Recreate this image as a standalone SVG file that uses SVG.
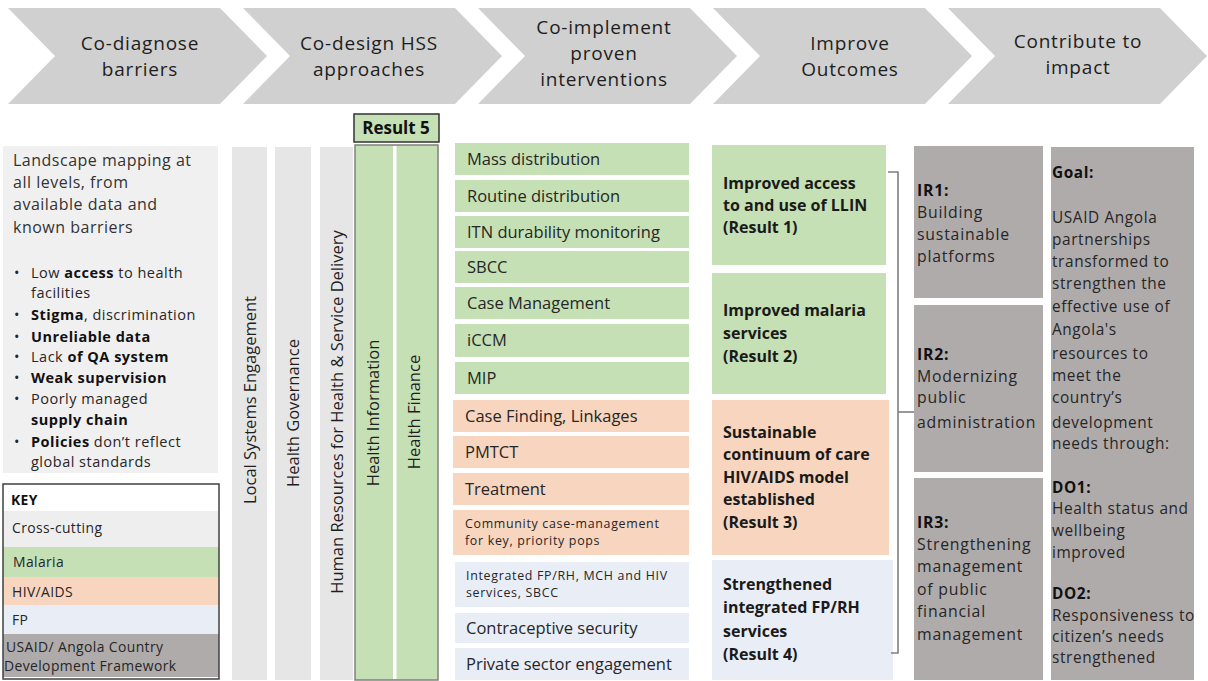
<svg xmlns="http://www.w3.org/2000/svg" width="1208" height="681" viewBox="0 0 1208 681">
  <defs>
    <style>
      text { font-family: "Open Sans", "Liberation Sans", sans-serif; fill: #262626; }
      .chev { fill: #d0d0d0; }
      .chev-t { font-size: 19px; letter-spacing: 0.8px; text-anchor: middle; fill: #1e1e1e; }
      .cross { fill: #e7e6e6; }
      .mal { fill: #c5e0b4; }
      .hiv { fill: #f8d5bf; }
      .fp { fill: #e9edf5; }
      .cdf { fill: #afabab; }
      .b { font-weight: bold; fill: #111; }
      .lead { font-size: 16px; letter-spacing: 0.5px; fill: #333; }
      .bul { font-size: 14.5px; letter-spacing: 0.5px; fill: #3a3a3a; }
      .vert { font-size: 16.5px; text-anchor: middle; fill: #1e1e1e; }
      .item { font-size: 16.5px; }
      .small { font-size: 12.4px; letter-spacing: 0.7px; }
      .out { font-size: 16px; font-weight: bold; fill: #1a1a1a; }
      .ir { font-size: 15.8px; letter-spacing: 0.8px; fill: #262626; }
      .goal { font-size: 15.4px; letter-spacing: 0.6px; fill: #262626; }
      .key { font-size: 13.9px; letter-spacing: 0.4px; }
      .conn { fill: none; stroke: #7f7f7f; stroke-width: 1.6; }
    </style>
  </defs>

  <rect width="1208" height="681" fill="#ffffff"/>

  <!-- process stages -->
  <g id="stage-diagnose">
    <path class="chev" d="M8,8 H220 L267,56 L220,104 H8 L55,56 Z"/>
    <text class="chev-t"><tspan x="140" y="50">Co-diagnose</tspan><tspan x="140" y="76">barriers</tspan></text>
  </g>
  <g id="stage-design">
    <path class="chev" d="M243,8 H455 L502,56 L455,104 H243 L290,56 Z"/>
    <text class="chev-t"><tspan x="369" y="50">Co-design HSS</tspan><tspan x="369" y="76">approaches</tspan></text>
  </g>
  <g id="stage-implement">
    <path class="chev" d="M478,8 H690 L737,56 L690,104 H478 L525,56 Z"/>
    <text class="chev-t"><tspan x="604" y="34">Co-implement</tspan><tspan x="604" y="60">proven</tspan><tspan x="604" y="86">interventions</tspan></text>
  </g>
  <g id="stage-outcomes">
    <path class="chev" d="M713,8 H925 L972,56 L925,104 H713 L760,56 Z"/>
    <text class="chev-t"><tspan x="850" y="50">Improve</tspan><tspan x="850" y="76">Outcomes</tspan></text>
  </g>
  <g id="stage-impact">
    <path class="chev" d="M948,8 H1160 L1207,56 L1160,104 H948 L995,56 Z"/>
    <text class="chev-t"><tspan x="1078" y="48">Contribute to</tspan><tspan x="1078" y="74">impact</tspan></text>
  </g>

  <!-- barriers -->
  <g id="barriers">
    <rect x="3" y="146" width="215" height="327" fill="#f1f0f1"/>
    <text class="lead"><tspan x="13" y="166">Landscape mapping at</tspan><tspan x="13" y="188">all levels, from</tspan><tspan x="13" y="210">available data and</tspan><tspan x="13" y="233">known barriers</tspan></text>
    <g class="bul">
      <text x="14" y="278">•</text><text x="31" y="278">Low <tspan class="b">access</tspan> to health</text>
      <text x="31" y="298">facilities</text>
      <text x="14" y="320">•</text><text x="31" y="320"><tspan class="b">Stigma</tspan>, discrimination</text>
      <text x="14" y="342">•</text><text x="31" y="342" class="b">Unreliable data</text>
      <text x="14" y="362">•</text><text x="31" y="362">Lack <tspan class="b">of QA system</tspan></text>
      <text x="14" y="383">•</text><text x="31" y="383" class="b">Weak supervision</text>
      <text x="14" y="404">•</text><text x="31" y="404">Poorly managed</text>
      <text x="31" y="425" class="b">supply chain</text>
      <text x="14" y="447">•</text><text x="31" y="447"><tspan class="b">Policies</tspan> don’t reflect</text>
      <text x="31" y="467">global standards</text>
    </g>
  </g>

  <!-- legend -->
  <g id="key">
    <rect x="3" y="484" width="216" height="195" fill="#ffffff"/>
    <rect x="3" y="511" width="216" height="36" fill="#efeeef"/>
    <rect class="mal" x="3" y="547" width="216" height="30"/>
    <rect class="hiv" x="3" y="577" width="216" height="28"/>
    <rect class="fp" x="3" y="605" width="216" height="29"/>
    <rect class="cdf" x="3" y="634" width="216" height="43"/>
    <rect x="3" y="484" width="216" height="195" fill="none" stroke="#404040" stroke-width="1.5"/>
    <text class="key b" x="11" y="505">KEY</text>
    <text class="key" x="12" y="533">Cross-cutting</text>
    <text class="key" x="13" y="567">Malaria</text>
    <text class="key" x="12" y="597">HIV/AIDS</text>
    <text class="key" x="12" y="625">FP</text>
    <text class="key"><tspan x="6" y="652">USAID/ Angola Country</tspan><tspan x="4" y="671">Development Framework</tspan></text>
  </g>

  <!-- health system building blocks -->
  <g id="col-local">
    <rect class="cross" x="232" y="147" width="35" height="533"/>
    <text class="vert" transform="translate(256,400) rotate(-90)">Local Systems Engagement</text>
  </g>
  <g id="col-governance">
    <rect class="cross" x="275" y="147" width="36" height="533"/>
    <text class="vert" transform="translate(299,413) rotate(-90)">Health Governance</text>
  </g>
  <g id="col-hr">
    <rect class="cross" x="320" y="147" width="33" height="533"/>
    <text class="vert" transform="translate(343,412) rotate(-90)">Human Resources for Health &amp; Service Delivery</text>
  </g>
  <g id="result5">
    <rect class="mal" x="354" y="114" width="85" height="28" stroke="#333" stroke-width="1.5"/>
    <text x="396" y="134" text-anchor="middle" font-size="17" class="b">Result 5</text>
    <rect class="mal" x="355" y="145" width="83" height="535" stroke="#808080" stroke-width="1.5"/>
    <rect x="393" y="146" width="3.5" height="533" fill="#ffffff"/>
  </g>
  <g id="col-hinfo">
    <text class="vert" transform="translate(379,413) rotate(-90)">Health Information</text>
  </g>
  <g id="col-hfinance">
    <text class="vert" transform="translate(420,412) rotate(-90)">Health Finance</text>
  </g>

  <!-- interventions -->
  <g id="interventions">
    <rect class="mal" x="455" y="143" width="234" height="32"/>
    <rect class="mal" x="455" y="180" width="234" height="32"/>
    <rect class="mal" x="455" y="216" width="234" height="32"/>
    <rect class="mal" x="455" y="251" width="234" height="32"/>
    <rect class="mal" x="455" y="287" width="234" height="32"/>
    <rect class="mal" x="455" y="324" width="234" height="33"/>
    <rect class="mal" x="455" y="362" width="234" height="32"/>
    <rect class="hiv" x="453" y="400" width="236" height="32"/>
    <rect class="hiv" x="453" y="436" width="236" height="32"/>
    <rect class="hiv" x="453" y="473" width="236" height="32"/>
    <rect class="hiv" x="453" y="510" width="236" height="45"/>
    <rect class="fp" x="455" y="562" width="234" height="45"/>
    <rect class="fp" x="455" y="613" width="234" height="30"/>
    <rect class="fp" x="455" y="648" width="234" height="32"/>
    <text class="item" x="467" y="165">Mass distribution</text>
    <text class="item" x="467" y="202">Routine distribution</text>
    <text class="item" x="467" y="238">ITN durability monitoring</text>
    <text class="item" x="467" y="273">SBCC</text>
    <text class="item" x="467" y="309">Case Management</text>
    <text class="item" x="467" y="346">iCCM</text>
    <text class="item" x="467" y="384">MIP</text>
    <text class="item" x="465" y="422">Case Finding, Linkages</text>
    <text class="item" x="465" y="458">PMTCT</text>
    <text class="item" x="465" y="495">Treatment</text>
    <text class="small"><tspan x="465" y="528">Community case-management</tspan><tspan x="465" y="545">for key, priority pops</tspan></text>
    <text class="small"><tspan x="466" y="580">Integrated FP/RH, MCH and HIV</tspan><tspan x="466" y="597">services, SBCC</tspan></text>
    <text class="item" x="466" y="634">Contraceptive security</text>
    <text class="item" x="466" y="670">Private sector engagement</text>
  </g>

  <!-- outcomes -->
  <g id="result1">
    <rect class="mal" x="712" y="145" width="174" height="120"/>
    <text class="out"><tspan x="723" y="189">Improved access</tspan><tspan x="723" y="211">to and use of LLIN</tspan><tspan x="723" y="233">(Result 1)</tspan></text>
  </g>
  <g id="result2">
    <rect class="mal" x="712" y="273" width="174" height="121"/>
    <text class="out"><tspan x="723" y="316">Improved malaria</tspan><tspan x="723" y="339">services</tspan><tspan x="723" y="362">(Result 2)</tspan></text>
  </g>
  <g id="result3">
    <rect class="hiv" x="712" y="400" width="177" height="155"/>
    <text class="out"><tspan x="723" y="438">Sustainable</tspan><tspan x="723" y="460">continuum of care</tspan><tspan x="723" y="483">HIV/AIDS model</tspan><tspan x="723" y="505">established</tspan><tspan x="723" y="528">(Result 3)</tspan></text>
  </g>
  <g id="result4">
    <rect class="fp" x="712" y="560" width="181" height="120"/>
    <text class="out"><tspan x="723" y="590">Strengthened</tspan><tspan x="723" y="613">integrated FP/RH</tspan><tspan x="723" y="637">services</tspan><tspan x="723" y="660">(Result 4)</tspan></text>
  </g>

  <!-- connectors -->
  <g id="connectors">
    <path class="conn" d="M888,172 H898 V653 H891"/>
    <path class="conn" d="M898,412 H914"/>
  </g>

  <!-- intermediate results -->
  <g id="ir1">
    <rect class="cdf" x="914" y="146" width="129" height="152"/>
    <text class="ir"><tspan x="917" y="196" class="b">IR1:</tspan><tspan x="917" y="218">Building</tspan><tspan x="917" y="240">sustainable</tspan><tspan x="917" y="262">platforms</tspan></text>
  </g>
  <g id="ir2">
    <rect class="cdf" x="914" y="305" width="129" height="167"/>
    <text class="ir"><tspan x="917" y="360" class="b">IR2:</tspan><tspan x="917" y="381.5">Modernizing</tspan><tspan x="917" y="403">public</tspan><tspan x="917" y="428">administration</tspan></text>
  </g>
  <g id="ir3">
    <rect class="cdf" x="914" y="478" width="129" height="202"/>
    <text class="ir"><tspan x="917" y="528" class="b">IR3:</tspan><tspan x="917" y="550">Strengthening</tspan><tspan x="917" y="572">management</tspan><tspan x="917" y="595">of public</tspan><tspan x="917" y="617">financial</tspan><tspan x="917" y="640">management</tspan></text>
  </g>

  <!-- goal -->
  <g id="goal">
    <rect class="cdf" x="1051" y="147" width="143" height="533"/>
    <text class="goal"><tspan x="1052" y="178" class="b">Goal:</tspan><tspan x="1052" y="223">USAID Angola</tspan><tspan x="1052" y="245">partnerships</tspan><tspan x="1052" y="267">transformed to</tspan><tspan x="1052" y="289">strengthen the</tspan><tspan x="1052" y="312">effective use of</tspan><tspan x="1052" y="335">Angola's</tspan><tspan x="1052" y="359">resources to</tspan><tspan x="1052" y="381">meet the</tspan><tspan x="1052" y="403">country’s</tspan><tspan x="1052" y="428">development</tspan><tspan x="1052" y="449">needs through:</tspan><tspan x="1052" y="493" class="b">DO1:</tspan><tspan x="1052" y="514">Health status and</tspan><tspan x="1052" y="536">wellbeing</tspan><tspan x="1052" y="558">improved</tspan><tspan x="1052" y="599" class="b">DO2:</tspan><tspan x="1052" y="621">Responsiveness to</tspan><tspan x="1052" y="642">citizen’s needs</tspan><tspan x="1052" y="663">strengthened</tspan></text>
  </g>
</svg>
